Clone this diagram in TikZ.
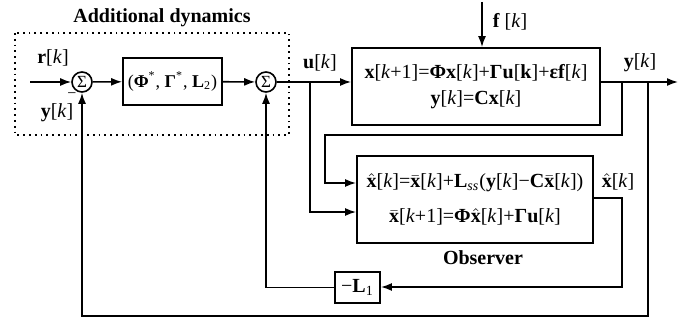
\documentclass[tikz,border=0pt]{standalone}
\usepackage{fontspec}
\setmainfont{Liberation Serif}
\usetikzlibrary{arrows.meta}
\newcommand{\bx}{\textbf{x}}
\newcommand{\kk}{\textit{k}}
\newcommand{\xhatb}{\ensuremath{\hat{\textbf{x}}}}
\newcommand{\xbarb}{\ensuremath{\bar{\textbf{x}}}}
\begin{document}
\begin{tikzpicture}[x=0.5pt,y=-0.5pt,
  font=\fontsize{10}{12}\selectfont,
  line/.style={line width=0.8pt},
  arr/.style={line width=0.8pt, -{Latex[length=5.5pt,width=4pt]}},
  blk/.style={draw, line width=0.9pt, inner sep=0pt, align=center},
  sumn/.style={draw, circle, line width=0.8pt, minimum size=10pt, inner sep=0pt, font=\fontsize{8.5}{9}\selectfont},
  lbl/.style={inner sep=0pt}]
\useasboundingbox (0,0) rectangle (678,320);

% additional dynamics frame
\draw[dotted, line width=0.9pt] (15,33) rectangle (289,135);
\node[lbl, font=\fontsize{10}{12}\selectfont\bfseries] (title) at (162,18) {Additional dynamics};

% nodes
\coordinate (in) at (30,82);
\node[sumn] (s1) at (82,82) {Σ};
\node[blk, minimum width=49.5pt, minimum height=23.5pt, font=\fontsize{9}{11}\selectfont] (L2) at (172.5,81.5)
  {(\textbf{Φ}\textsuperscript{*}, \textbf{Γ}\textsuperscript{*}, \textbf{L}\textsubscript{2})};
\node[sumn] (s2) at (266,82) {Σ};
\node[blk, minimum width=124pt, minimum height=38.5pt, font=\fontsize{10}{13}\selectfont] (plant) at (476,86.5)
  {\bx[\kk+1]=\textbf{Φ}\bx[\kk]+\textbf{Γ}\textbf{u}[\textbf{k}]+\textbf{ε}\textbf{f}[\kk]\\
   \textbf{y}[\kk]=\textbf{C}\bx[\kk]};
\node[blk, minimum width=118pt, minimum height=43.5pt, font=\fontsize{10}{17.5}\selectfont] (obs) at (475,199.5)
  {\xhatb[\kk]=\xbarb[\kk]+\textbf{L}\textsubscript{\textit{ss}}(\textbf{y}[\kk]−\textbf{C}\xbarb[\kk])\\
   \xbarb[\kk+1]=\textbf{Φ}\xhatb[\kk]+\textbf{Γ}\textbf{u}[\kk]};
\node[blk, minimum width=22.5pt, minimum height=15.5pt] (L1) at (357.5,287.5) {−\textbf{L}\textsubscript{1}};

% labels
\node[lbl] (rl) at (53,58) {\textbf{r}[\kk]};
\node[lbl] (yl) at (57,113) {\textbf{y}[\kk]};
\node[lbl, font=\fontsize{8}{8}\selectfont] (minus) at (72,96) {−};
\node[lbl] (ul) at (320,63) {\textbf{u}[\kk]};
\node[lbl] (fl) at (510,22) {\textbf{f} [\kk]};
\node[lbl] (yo) at (640,63) {\textbf{y}[\kk]};
\node[lbl] (xl) at (618,182) {\xhatb[\kk]};
\node[lbl, font=\fontsize{10}{12}\selectfont\bfseries] (obsl) at (483,258) {Observer};

% coordinates
\coordinate (ftop) at (482,2);
\coordinate (ub) at (310,82);
\coordinate (yb1) at (622,82);
\coordinate (yb2) at (648,82);
\coordinate (out) at (678,82);
\coordinate (c1) at (325,135);
\coordinate (c2) at (622,287);
\coordinate (c3) at (82,316);
\coordinate (c4) at (648,316);

% connectors
\draw[arr] (in) -- (s1);
\draw[arr] (s1) -- (L2);
\draw[arr] (L2) -- (s2);
\draw[arr] (s2) -- (s2 -| plant.west);
\draw[arr] (ftop) -- (ftop |- plant.north);
\draw[arr] (plant.east |- s2) -- (out);
\draw[arr] (ub) |- ([yshift=-6.25pt]obs.west);
\draw[arr] (yb1) |- (c1) |- ([yshift=8.25pt]obs.west);
\draw[arr] ([yshift=0.75pt]obs.east) -| (c2) -- (c2 -| L1.east);
\draw[arr] (L1.west) -| (s2.south);
\draw[arr] (yb2) -- (c4) -- (c3) -- (s1.south);
\end{tikzpicture}
\end{document}
